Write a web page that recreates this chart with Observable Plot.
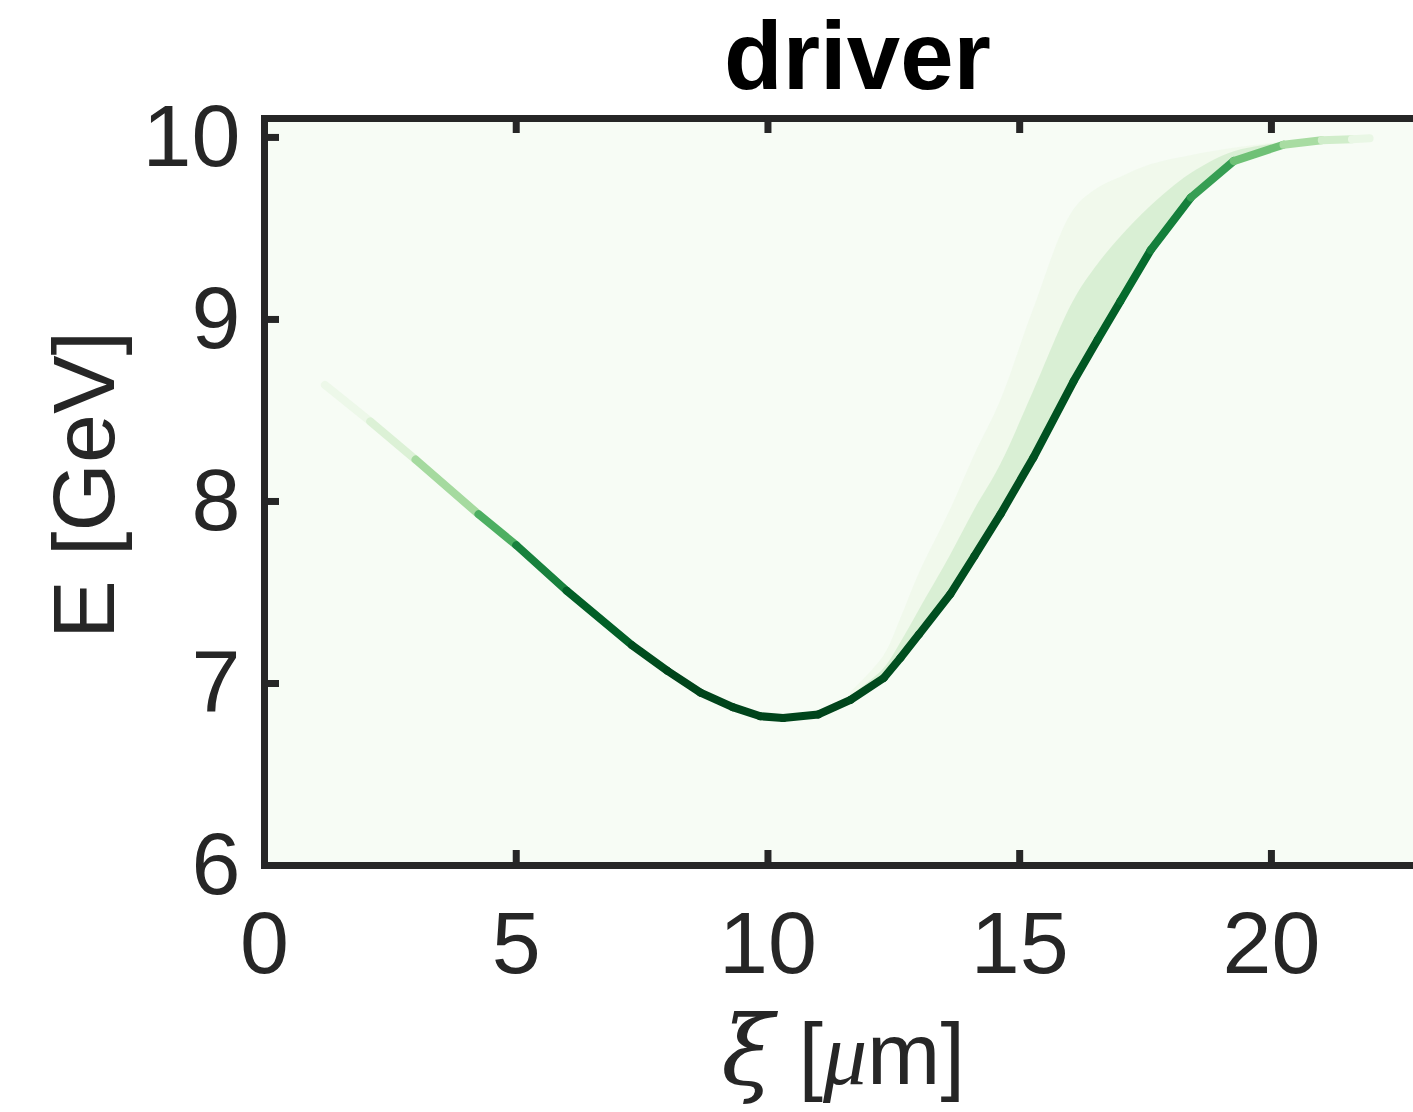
<!DOCTYPE html>
<html>
<head>
<meta charset="utf-8">
<script src="https://cdn.jsdelivr.net/npm/d3@7"></script>
<script src="https://cdn.jsdelivr.net/npm/@observablehq/plot@0.6"></script>
<style>
  body { margin: 0; background: #ffffff; }
  #chart svg { display: block; overflow: hidden; }
</style>
</head>
<body>
<div id="chart"></div>
<script>
// ---- data ----
const title = "driver";
const yLabel = "E [GeV]";
const xTicks = [0, 5, 10, 15, 20];
const yTicks = [6, 7, 8, 9, 10];
const xDomain = [0, 23.12];
const yDomain = [6, 10.104];

// centre line of the beam in (xi, E) and its relative charge density (0..1)
const xiCenter = [1.2, 2.1, 3.0, 4.25, 5.0, 6.0, 7.3, 8.0, 8.66, 9.3, 9.85, 10.3, 11.0, 11.64, 12.3, 12.63, 13.0, 13.62, 14.1, 14.62, 15.27, 16.07, 16.55, 17.0, 17.6, 18.4, 19.25, 20.24, 21.0, 21.6, 21.95];
const eCenter  = [8.64, 8.44, 8.23, 7.93, 7.76, 7.51, 7.21, 7.07, 6.95, 6.87, 6.82, 6.81, 6.83, 6.91, 7.03, 7.14, 7.27, 7.49, 7.70, 7.93, 8.24, 8.66, 8.89, 9.10, 9.38, 9.67, 9.87, 9.96, 9.985, 9.99, 9.995];
const density  = [0.04, 0.10, 0.22, 0.50, 0.70, 0.88, 0.95, 1, 1, 1, 1, 1, 1, 1, 0.97, 0.97, 0.97, 0.97, 0.97, 0.97, 0.97, 0.95, 0.93, 0.90, 0.85, 0.75, 0.60, 0.42, 0.28, 0.14, 0.04];

// diffuse halo of particles above the rising branch
const haloXi    = [11.64, 12.3, 12.63, 13.0, 13.62, 14.1, 14.62, 15.27, 16.07, 16.55, 17.0, 17.6, 18.4, 19.25, 20.24];
const haloBase  = [6.91, 7.03, 7.14, 7.27, 7.49, 7.70, 7.93, 8.24, 8.66, 8.89, 9.10, 9.38, 9.67, 9.87, 9.96];
const haloInner = [6.93, 7.08, 7.22, 7.40, 7.70, 7.95, 8.20, 8.60, 9.10, 9.30, 9.45, 9.62, 9.80, 9.92, 9.97];
const haloOuter = [6.95, 7.15, 7.35, 7.60, 7.95, 8.25, 8.55, 9.05, 9.60, 9.72, 9.78, 9.85, 9.90, 9.94, 9.975];

// ---- tables built from the arrays ----
const segs = d3.range(xiCenter.length - 1).map(i => ({
  x1: xiCenter[i], y1: eCenter[i], x2: xiCenter[i + 1], y2: eCenter[i + 1],
  d: (density[i] + density[i + 1]) / 2
}));
const halo = haloXi.map((xi, i) => ({xi, base: haloBase[i], inner: haloInner[i], outer: haloOuter[i]}));

// ---- layout ----
const W = 1413, H = 1112;
const mL = 264, mR = -15, mT = 118, mB = 247;
const plotW = W - mL - mR, plotH = H - mT - mB;
const tickLen = 15;
const ink = "#262626";

const chart = Plot.plot({
  width: W, height: H,
  marginLeft: mL, marginRight: mR, marginTop: mT, marginBottom: mB,
  style: {fontFamily: "'Liberation Sans', Arial, Helvetica, sans-serif", fontSize: "88px", color: ink, background: "#ffffff", overflow: "hidden"},
  x: {domain: xDomain, axis: null},
  y: {domain: yDomain, axis: null},
  color: {type: "linear", scheme: "Greens", domain: [0, 1]},
  marks: [
    Plot.frame({fill: d3.interpolateGreens(0), stroke: "none"}),
    Plot.areaY(halo, {x: "xi", y1: "base", y2: "outer", curve: "catmull-rom", fill: d3.interpolateGreens(0.1), fillOpacity: 0.45}),
    Plot.areaY(halo, {x: "xi", y1: "base", y2: "inner", curve: "catmull-rom", fill: d3.interpolateGreens(0.3), fillOpacity: 0.4}),
    Plot.link(segs, {x1: "x1", y1: "y1", x2: "x2", y2: "y2", stroke: "d", strokeWidth: 8, strokeLinecap: "round"}),
    Plot.frame({stroke: ink, strokeWidth: 7}),
    Plot.ruleX(xTicks, {x: d => d, insetTop: plotH - tickLen, stroke: ink, strokeWidth: 7}),
    Plot.ruleX(xTicks, {x: d => d, insetBottom: plotH - tickLen, stroke: ink, strokeWidth: 7}),
    Plot.ruleY(yTicks, {y: d => d, insetRight: plotW - tickLen, stroke: ink, strokeWidth: 7}),
    Plot.ruleY(yTicks, {y: d => d, insetLeft: plotW - tickLen, stroke: ink, strokeWidth: 7}),
    Plot.axisX(xTicks, {anchor: "bottom", tickSize: 0, tickPadding: 45, tickFormat: d3.format("d"), label: null, fill: ink}),
    Plot.axisY(yTicks, {anchor: "left", tickSize: 0, tickPadding: 24, tickFormat: d3.format("d"), label: null, fill: ink}),
    Plot.text([title], {frameAnchor: "top", dx: 11, dy: -30, lineAnchor: "bottom", fontSize: 96, fontWeight: "bold", fill: "#000000"}),
    Plot.text([yLabel], {frameAnchor: "left", dx: -151, dy: -7, rotate: -90, textAnchor: "middle", lineAnchor: "bottom", fill: ink})
  ]
});

// x axis label with italic Greek letters
const svg = d3.select(chart);
const xl = svg.append("text")
  .attr("x", mL + plotW / 2 - 3)
  .attr("y", 1084)
  .attr("text-anchor", "middle")
  .attr("fill", ink)
  .style("font-size", "88px")
  .style("font-family", "'Liberation Sans', Arial, sans-serif");
xl.append("tspan").text("ξ").style("font-style", "italic").style("font-size", "96px").style("font-family", "'DejaVu Serif', 'Liberation Serif', serif");
xl.append("tspan").text(" [");
xl.append("tspan").text("μ").style("font-style", "italic").style("font-family", "'Liberation Serif', 'DejaVu Serif', serif");
xl.append("tspan").text("m]");

document.getElementById("chart").appendChild(chart);
</script>
</body>
</html>
